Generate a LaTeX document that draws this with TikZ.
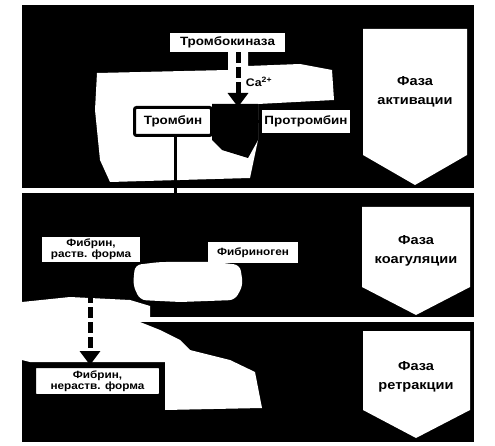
\documentclass[tikz,border=0pt]{standalone}
\usepackage{fontspec}
\setmainfont[FakeStretch=1.12]{Liberation Sans}
\usetikzlibrary{arrows.meta}
\begin{document}
\begin{tikzpicture}[x=1pt,y=-1pt,
  band/.style={fill=black},
  blob/.style={fill=white},
  chev/.style={fill=white},
  wbox/.style={fill=white, inner sep=0pt, align=center, font=\bfseries\fontsize{12}{12}\selectfont},
  fbox/.style={fill=white, inner sep=0pt, align=center, font=\bfseries\fontsize{10.5}{11}\selectfont},
  bbox/.style={fill=white, draw=black, line width=3pt, inner sep=0pt, align=center, rounded corners=2pt, font=\bfseries\fontsize{12}{12}\selectfont},
  phase/.style={align=center, font=\bfseries\fontsize{13}{19.5}\selectfont},
  dasharrow/.style={draw=black, line width=5pt, dash pattern=on 11pt off 4pt, -{Triangle[width=20pt,length=14pt]}},
  conn/.style={draw=black, line width=3pt},
  connarrow/.style={draw=black, line width=3pt, -{Triangle[width=12pt,length=10pt]}},
]
\useasboundingbox (0,0) rectangle (495,446);
\fill[white] (0,0) rectangle (495,446);
% bands
\fill[band] (22,5) rectangle (474,188);
\fill[band] (22,193) rectangle (474,317);
\fill[band] (22,322) rectangle (474,442);
% light areas
\fill[blob] (97,73) -- (228,70) -- (228,52) -- (248,52) -- (248,66) -- (300,64) -- (332,70)
  -- (334,100) -- (258,104) -- (258,140) -- (250,178) -- (110,182) -- (100,160) -- (95,110) -- cycle;
\fill[band] (212,104) -- (258,104) -- (258,140) -- (248,158) -- (222,150) -- (212,140) -- cycle;
\fill[blob, rounded corners=6pt] (135,265) -- (160,262) -- (215,262) -- (240,265) -- (243,285)
  -- (235,300) -- (180,302) -- (140,300) -- (133,285) -- cycle;
\fill[blob] (22,302) -- (70,297) -- (130,300) -- (150,306) -- (150,317) -- (22,317) -- cycle;
\fill[blob] (22,322) -- (140,322) -- (160,330) -- (180,340) -- (190,350) -- (230,360) -- (255,372)
  -- (262,408) -- (165,410) -- (165,362) -- (30,362) -- (22,360) -- cycle;
% phase chevrons
\fill[chev] (363,29) -- (467,29) -- (467,155) -- (415,185) -- (363,155) -- cycle;
\fill[chev] (362,207) -- (470,207) -- (470,287) -- (416,315) -- (362,287) -- cycle;
\fill[chev] (363,331) -- (470,331) -- (470,410) -- (416,438) -- (363,410) -- cycle;
\node[phase] (ph1) at (415,92) {Фаза\\активации};
\node[phase] (ph2) at (416,251) {Фаза\\коагуляции};
\node[phase] (ph3) at (416,377) {Фаза\\ретракции};
% nodes
\node[wbox, minimum width=115pt, minimum height=19pt] (tk) at (227.5,42.5) {Тромбокиназа};
\node[bbox, minimum width=77pt, minimum height=28pt] (tr) at (173,121.5) {Тромбин};
\node[wbox, minimum width=88pt, minimum height=23pt] (ptr) at (306,121.5) {Протромбин};
\node[fbox, minimum width=98pt, minimum height=25pt] (fr) at (91,249.5) {Фибрин,\\раств. форма};
\node[wbox, font=\bfseries\fontsize{10.5}{10.5}\selectfont, minimum width=90pt, minimum height=21pt] (fg) at (253,252.5) {Фибриноген};
\node[bbox, font=\bfseries\fontsize{10.5}{11}\selectfont, minimum width=126pt, minimum height=29pt] (fn) at (97.5,381) {Фибрин,\\нераств. форма};
% connectors
\coordinate (act) at (238,107);
\coordinate (conv) at (175,252.5);
\draw[dasharrow] (tk.south -| act) -- (act);
\node[font=\bfseries\fontsize{11}{11}\selectfont] (ca) at (259,82) {Ca\textsuperscript{2+}};
\draw[connarrow] (ptr.west) -- (tr.east);
\draw[conn] (tr.south -| conv) -- (conv);
\draw[connarrow] (fg.west) -- (fr.east |- fg.west);
\draw[dasharrow] (fr.south -| 90,0) -- (fn.north -| 90,0);
\end{tikzpicture}
\end{document}
